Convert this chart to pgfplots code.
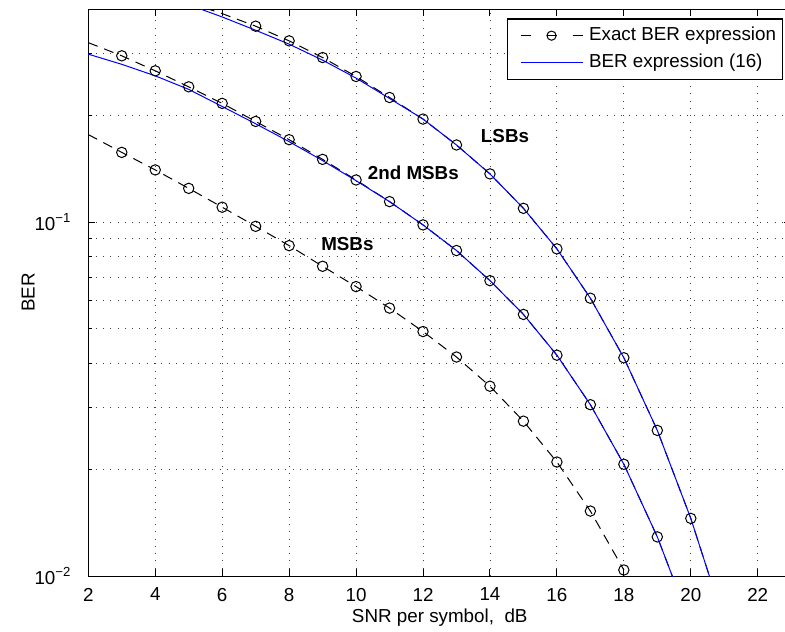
\documentclass[border=0pt]{standalone}
\usepackage{fontspec}
\setmainfont{Liberation Sans}
\usepackage{pgfplots}
\pgfplotsset{compat=1.18}
\newcommand\sz{\fontsize{9.4}{11.3}\selectfont}

\begin{document}
\begin{tikzpicture}
  \begin{axis}[
    scale only axis, width=351.45pt, height=283.35pt,
    at={(0,0)}, anchor=south west,
    xmin=2, xmax=23, ymin=0.01, ymax=0.4, ymode=log,
    xtick={2,4,...,22},
    ytick={0.01,0.1},
    yticklabels={10\textsuperscript{−2},10\textsuperscript{−1}},
    minor ytick={0.02,0.03,0.04,0.05,0.06,0.07,0.08,0.09,0.2,0.3},
    /pgf/number format/assume math mode=true,
    tick align=inside,
    major tick length=3.5pt, minor tick length=2pt,
    tick style={black, line width=0.5pt},
    axis line style={line width=0.5pt},
    xmajorgrids, ymajorgrids, yminorgrids,
    grid style={black!75, line width=0.45pt, dash pattern=on 0.5pt off 3.15pt},
    minor grid style={black!75, line width=0.45pt, dash pattern=on 0.5pt off 3.15pt},
    ticklabel style={font=\sz},
    xticklabel style={yshift=-2.4pt},
    yticklabel style={xshift=-4.9pt},
    xlabel={SNR per symbol,\ \ dB}, ylabel={BER},
    label style={font=\sz},
    xlabel style={at={(axis description cs:0.5,-0.0741)}, anchor=center},
    ylabel style={at={(axis description cs:-0.0854,0.5)}, anchor=center},
    legend style={at={(0.9879,0.984)}, anchor=north east, font=\sz,
      draw=black, line width=0.6pt, inner xsep=3pt, inner ysep=1.6pt,
      nodes={inner xsep=0pt, inner ysep=2.25pt, text height=7pt, text depth=2pt},
      /tikz/every odd column/.append style={column sep=3pt},
      cells={anchor=west}},
    legend image code/.code={\path (-3.2pt,0pt);
      \draw[#1, mark indices={2}]
      plot coordinates {(0pt,0pt) (15.5pt,0pt) (31pt,0pt)};},
    every axis plot/.append style={line width=0.5pt},
    dashline/.style={black, dash pattern=on 5pt off 3.5pt,
      mark=o, mark size=2.6pt, mark options={solid, line width=0.5pt},
      legend image post style={dash pattern=on 5pt off 8pt, mark size=2.3pt}},
    blueline/.style={color=blue, no marks},
  ]
    % MSBs, exact
    \addplot[dashline, mark indices={2,...,17}] coordinates {
      (2,0.177) (3,0.1576) (4,0.1406) (5,0.1247) (6,0.1103) (7,0.0974)
      (8,0.0859) (9,0.0751) (10,0.0658) (11,0.0572) (12,0.0491) (13,0.0416)
      (14,0.0344) (15,0.0274) (16,0.0210) (17,0.01526) (18,0.0104)};
    \addlegendentry{Exact BER expression}
    % 2nd MSBs, exact
    \addplot[dashline, mark indices={2,...,18}, forget plot] coordinates {
      (2,0.322) (3,0.2955) (4,0.268) (5,0.2415) (6,0.2168) (7,0.1928)
      (8,0.1712) (9,0.1506) (10,0.1317) (11,0.1144) (12,0.0983) (13,0.0832)
      (14,0.0684) (15,0.0549) (16,0.0421) (17,0.0305) (18,0.0207) (19,0.0129)
      (20,0.0073)};
    % LSBs, exact
    \addplot[dashline, mark indices={2,...,16}, forget plot] coordinates {
      (5,0.418) (6,0.389) (7,0.3584) (8,0.3257) (9,0.2922) (10,0.2583)
      (11,0.2253) (12,0.1958) (13,0.1654) (14,0.137) (15,0.1095) (16,0.0841)
      (17,0.061) (18,0.0414) (19,0.0258) (20,0.01455) (21,0.0074)};
    % 2nd MSBs, expression (16)
    \addplot[blueline] coordinates {
      (2,0.2987) (3,0.2796) (4,0.2594) (5,0.2375) (6,0.2125) (7,0.1899)
      (8,0.169) (9,0.1494) (10,0.1311) (11,0.1144) (12,0.0983) (13,0.0832)
      (14,0.0684) (15,0.0549) (16,0.0421) (17,0.0305) (18,0.0207) (19,0.0129)
      (20,0.0073)};
    \addlegendentry{BER expression (16)}
    % LSBs, expression (16)
    \addplot[blueline, forget plot] coordinates {
      (5,0.412) (6,0.3806) (7,0.349) (8,0.3188) (9,0.2873) (10,0.2556)
      (11,0.2239) (12,0.1958) (13,0.1654) (14,0.137) (15,0.1095) (16,0.0841)
      (17,0.061) (18,0.0414) (19,0.0258) (20,0.01455) (21,0.0074)};

    \node[font=\sz\bfseries] at (axis cs:14.45,0.1748) {LSBs};
    \node[font=\sz\bfseries] at (axis cs:11.71,0.1384) {2nd MSBs};
    \node[font=\sz\bfseries] at (axis cs:9.74,0.0869) {MSBs};
  \end{axis}
  \pgfresetboundingbox
  \path[use as bounding box] (-44.15pt,-27.5pt) rectangle (348.35pt,288pt);
\end{tikzpicture}
\end{document}
